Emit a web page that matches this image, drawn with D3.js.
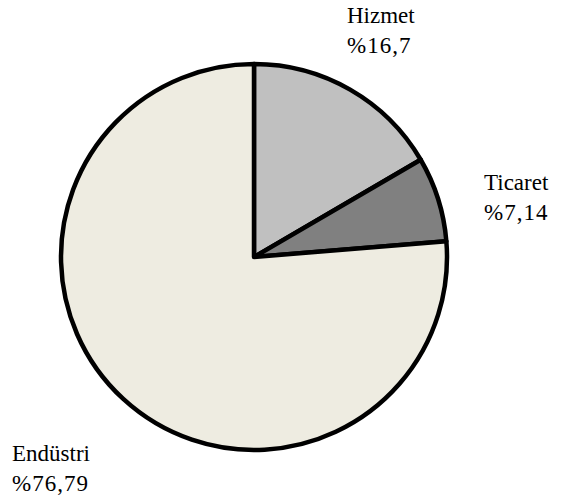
<!DOCTYPE html>
<html>
<head>
<meta charset="utf-8">
<script src="https://cdn.jsdelivr.net/npm/d3@7"></script>
<style>
  body { margin: 0; background: #fff; }
</style>
</head>
<body>
<div id="chart"></div>
<script>
const categories = ["Hizmet", "Ticaret", "Endüstri"];
const values = [16.7, 7.14, 76.79];
const valueLabels = ["%16,7", "%7,14", "%76,79"];
const colors = ["#c0c0c0", "#808080", "#eeece1"];

const width = 561;
const height = 501;
const cx = 254, cy = 257, radius = 193;

const svg = d3.select("#chart")
  .append("svg")
  .attr("width", width)
  .attr("height", height);

const pie = d3.pie().sort(null).value(d => d.value);
const arc = d3.arc().innerRadius(0).outerRadius(radius);

const data = categories.map((c, i) => ({ name: c, value: values[i], label: valueLabels[i], color: colors[i] }));
const arcs = pie(data);

const g = svg.append("g").attr("transform", `translate(${cx},${cy})`);

g.selectAll("path")
  .data(arcs)
  .join("path")
    .attr("d", arc)
    .attr("fill", d => d.data.color)
    .attr("stroke", "#000")
    .attr("stroke-width", 4.5)
    .attr("stroke-linejoin", "round");

// label positions (baseline of first line)
const labelPos = [
  { x: 347, y: 23 },
  { x: 484, y: 190 },
  { x: 12, y: 461 }
];

const labels = svg.append("g")
  .selectAll("text")
  .data(arcs)
  .join("text")
    .style("font-family", "'Liberation Serif', 'DejaVu Serif', serif")
    .attr("font-size", "23px")
    .attr("fill", "#000");

labels.append("tspan")
  .attr("x", (d, i) => labelPos[i].x)
  .attr("y", (d, i) => labelPos[i].y)
  .text(d => d.data.name);

labels.append("tspan")
  .attr("x", (d, i) => labelPos[i].x)
  .attr("y", (d, i) => labelPos[i].y + 30)
  .style("letter-spacing", "1px")
  .text(d => d.data.label);
</script>
</body>
</html>
